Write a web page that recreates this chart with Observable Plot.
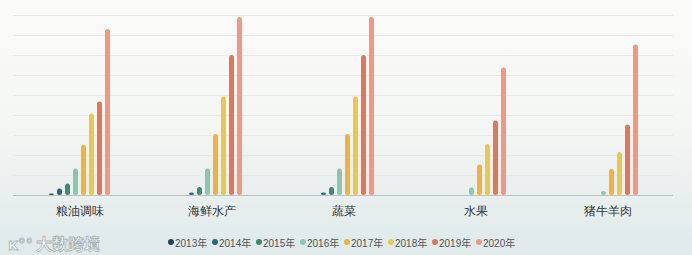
<!DOCTYPE html>
<html>
<head>
<meta charset="utf-8">
<script src="https://cdn.jsdelivr.net/npm/d3@7"></script>
<script src="https://cdn.jsdelivr.net/npm/@observablehq/plot@0.6"></script>
<style>
  html, body { margin: 0; padding: 0; }
  body {
    width: 692px; height: 255px; overflow: hidden; position: relative;
    background: linear-gradient(to bottom, #fbfbf9 0%, #f5f7f4 45%, #e9f0ef 75%, #dfe9ea 100%);
    font-family: "Noto Sans CJK SC", "Noto Sans", sans-serif;
  }
  #chart svg { display: block; background: transparent; }
  #legend {
    position: absolute; left: 168px; top: 234px; height: 16px;
    display: flex; align-items: center; font-size: 10px; color: #555;
    font-family: "Liberation Sans", "Noto Sans CJK SC", sans-serif;
  }
  #legend .item { display: flex; align-items: center; width: 44px; }
  #legend .dot { width: 6px; height: 6px; border-radius: 50%; margin-right: 1px; }
  #logo {
    position: absolute; left: 8px; top: 231px; font-size: 16px; font-weight: bold;
    color: #f6f9f9; -webkit-text-stroke: 0.8px #a9b4b6;
    font-family: "Noto Sans CJK SC", sans-serif;
  }
  #logo .mark { font-family: "DejaVu Sans", sans-serif; font-size: 15px; margin-right: 3px; }
</style>
</head>
<body>
<div id="chart"></div>
<div id="legend"></div>
<div id="logo"><span class="mark">ĸ°°</span>大数跨境</div>
<script>
const categories = ["粮油调味", "海鲜水产", "蔬菜", "水果", "猪牛羊肉"];
const years = ["2013年", "2014年", "2015年", "2016年", "2017年", "2018年", "2019年", "2020年"];
const colors = ["#1f4753", "#2b6779", "#3c8b72", "#8ec5b0", "#f0b13f", "#e8c84f", "#e0775a", "#f09882"];
const grainOil   = [0.08, 0.32, 0.57, 1.33, 2.5, 4.08, 4.68, 8.3];
const seafood    = [0, 0.13, 0.4, 1.33, 3.05, 4.92, 7.0, 8.9];
const vegetables = [0, 0.13, 0.4, 1.33, 3.05, 4.92, 7.0, 8.9];
const fruit      = [0, 0, 0, 0.37, 1.53, 2.55, 3.72, 6.37];
const meat       = [0, 0, 0, 0.2, 1.3, 2.15, 3.52, 7.53];
const gridTicks = [1, 2, 3, 4, 5, 6, 7, 8, 9];

const series = [grainOil, seafood, vegetables, fruit, meat];
const data = [];
categories.forEach((c, i) => {
  years.forEach((y, j) => {
    if (series[i][j] > 0) data.push({category: c, year: y, value: series[i][j]});
  });
});

const chart = Plot.plot({
  width: 692,
  height: 228,
  marginLeft: 3,
  marginRight: 10,
  marginTop: 15,
  marginBottom: 33,
  style: {background: "transparent", overflow: "visible"},
  fx: {domain: categories, paddingInner: 0, paddingOuter: 0.053, label: null},
  x: {domain: years, paddingInner: 0.42, paddingOuter: 3.7, axis: null},
  y: {domain: [0, 9], axis: null},
  color: {domain: years, range: colors},
  marks: [
    Plot.ruleY(gridTicks, {stroke: "#e8eae7", strokeWidth: 1}),
    Plot.ruleY([0], {stroke: "#bcc4c3", strokeWidth: 1.2}),
    Plot.barY(data, {fx: "category", x: "year", y: "value", fill: "year", rx: 2.5}),
    Plot.axisFx({anchor: "bottom", tickSize: 0, tickPadding: 11, fontSize: 12, fill: "#333", label: null})
  ]
});
document.getElementById("chart").appendChild(chart);

const legend = document.getElementById("legend");
years.forEach((y, i) => {
  const item = document.createElement("div");
  item.className = "item";
  const dot = document.createElement("span");
  dot.className = "dot";
  dot.style.background = colors[i];
  const t = document.createElement("span");
  t.textContent = y;
  item.appendChild(dot);
  item.appendChild(t);
  legend.appendChild(item);
});
</script>
</body>
</html>
